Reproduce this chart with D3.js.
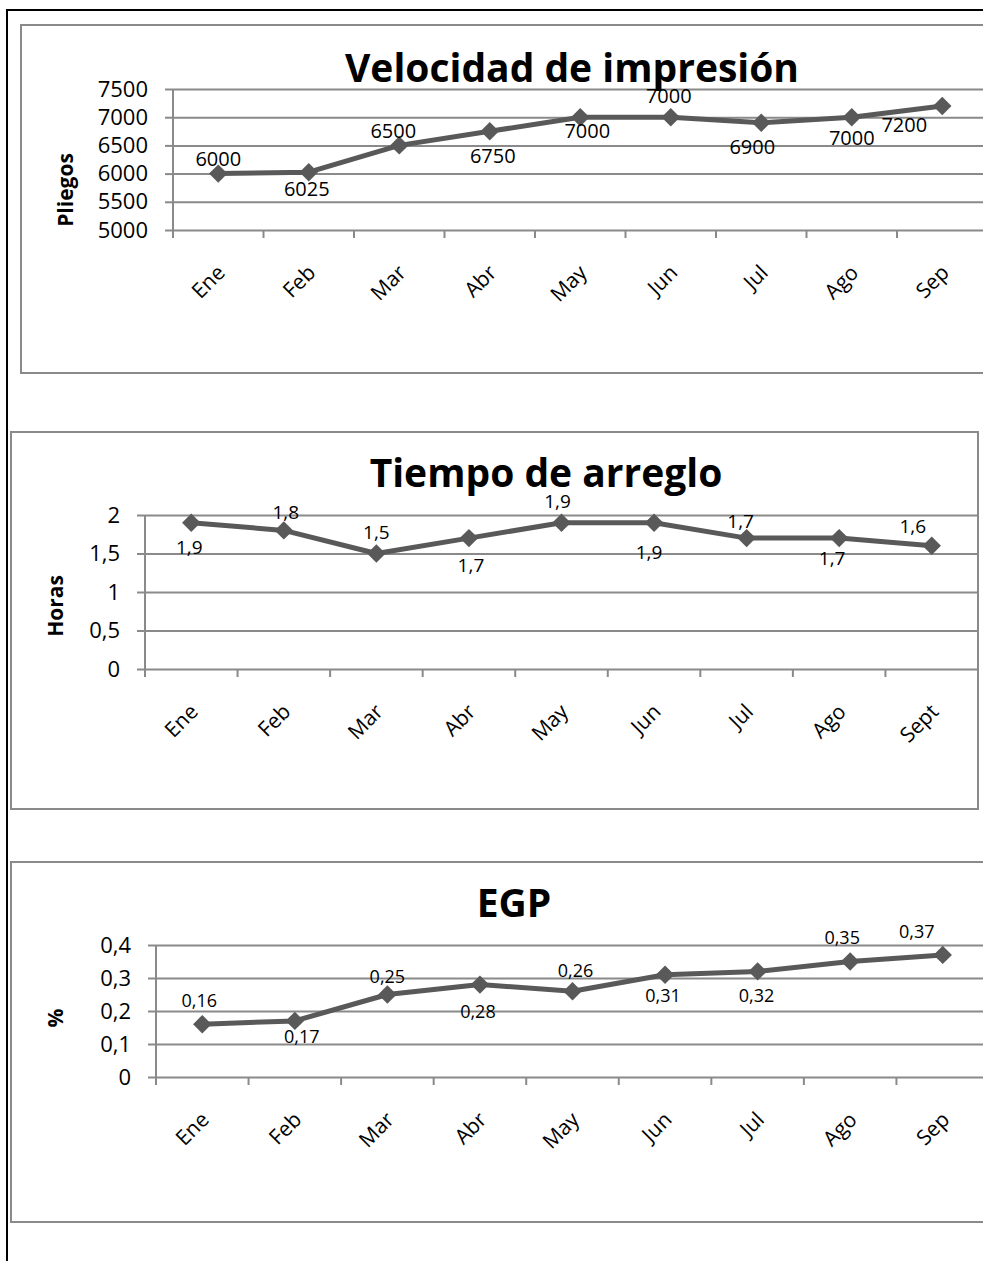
<!DOCTYPE html>
<html>
<head>
<meta charset="utf-8">
<script src="https://cdn.jsdelivr.net/npm/d3@7"></script>
<style>
  body { margin: 0; background: #fff; }
  text { font-family: "Open Sans", sans-serif; fill: #000; }
</style>
</head>
<body>
<div class="chart"></div>
<script>
// data
const months = ["Ene", "Feb", "Mar", "Abr", "May", "Jun", "Jul", "Ago", "Sep"];
const monthsArreglo = ["Ene", "Feb", "Mar", "Abr", "May", "Jun", "Jul", "Ago", "Sept"];

const pliegos = [6000, 6025, 6500, 6750, 7000, 7000, 6900, 7000, 7200];
const horas = [1.9, 1.8, 1.5, 1.7, 1.9, 1.9, 1.7, 1.7, 1.6];
const egp = [0.16, 0.17, 0.25, 0.28, 0.26, 0.31, 0.32, 0.35, 0.37];

const pliegosTicks = [5000, 5500, 6000, 6500, 7000, 7500];
const horasTicks = [0, 0.5, 1, 1.5, 2];
const egpTicks = [0, 0.1, 0.2, 0.3, 0.4];

// where each data label sits relative to its point (px), as left in the original
const pliegosLabelPos = [[0, -8], [-2, 24], [-6, -7], [3, 32], [7, 21], [-2, -14], [-9, 31], [0, 28], [-38, 26]];
const horasLabelPos = [[-2, 31], [2, -11], [0, -15], [2, 34], [-4, -15], [-5, 36], [-6, -10], [-7, 27], [-19, -13]];
const egpLabelPos = [[-3, -17], [7, 22], [0, -12], [-2, 33], [3, -14], [-2, 27], [-1, 31], [-8, -18], [-26, -17]];

const svgWidth = 983;
const svgHeight = 1261;

const locale = d3.formatLocale({ decimal: ",", thousands: "", grouping: [3], currency: ["", ""] });
const fmt = locale.format("~f");

const gridColor = "#8a8a8a";
const lineColor = "#595959";

const svg = d3.select(".chart")
  .append("svg")
  .attr("width", svgWidth)
  .attr("height", svgHeight);

svg.append("rect").attr("width", svgWidth).attr("height", svgHeight).attr("fill", "#fff");

// outer page frame (only left and top edges show)
svg.append("path")
  .attr("d", `M7,${svgHeight} V10 H${svgWidth}`)
  .attr("fill", "none")
  .attr("stroke", "#000")
  .attr("stroke-width", 2);

function drawChart(c) {
  const g = svg.append("g");

  g.append("rect")
    .attr("x", c.frame[0]).attr("y", c.frame[1])
    .attr("width", c.frame[2]).attr("height", c.frame[3])
    .attr("fill", "#fff")
    .attr("stroke", gridColor)
    .attr("stroke-width", 2);

  const plot = g.append("g").attr("transform", `translate(${c.left}, ${c.top})`);

  const xScale = d3.scaleBand()
    .domain(c.categories)
    .range([0, c.width]);

  const yScale = d3.scaleLinear()
    .domain(d3.extent(c.ticks))
    .range([c.height, 0]);

  // gridlines
  plot.append("g")
    .call(d3.axisLeft(yScale).tickValues(c.ticks).tickSize(-c.width).tickFormat(""))
    .call(a => a.select(".domain").remove())
    .call(a => a.selectAll("line").attr("stroke", gridColor).attr("stroke-width", 2));

  // y axis with labels
  plot.append("g")
    .call(d3.axisLeft(yScale).tickValues(c.ticks).tickSize(8).tickPadding(17).tickFormat(fmt))
    .call(a => a.select(".domain").remove())
    .call(a => a.selectAll("line").attr("stroke", gridColor).attr("stroke-width", 2))
    .call(a => a.selectAll("text").attr("font-size", 22).attr("font-family", "Open Sans").attr("fill", "#000"));

  plot.append("line")
    .attr("x1", 0).attr("x2", 0)
    .attr("y1", 0).attr("y2", c.height + 8)
    .attr("stroke", gridColor).attr("stroke-width", 2);

  // category ticks at band edges
  const edges = d3.range(c.categories.length + 1).map(i => i * xScale.step());
  plot.selectAll(".ctick")
    .data(edges)
    .enter()
    .append("line")
    .attr("x1", d => d).attr("x2", d => d)
    .attr("y1", c.height).attr("y2", c.height + 8)
    .attr("stroke", gridColor).attr("stroke-width", 2);

  // rotated category labels
  plot.selectAll(".clabel")
    .data(c.categories)
    .enter()
    .append("text")
    .attr("text-anchor", "end")
    .attr("font-size", 21)
    .attr("transform", d => `translate(${xScale(d) + xScale.bandwidth() / 2 + 8}, ${c.height + 44}) rotate(-45)`)
    .text(d => d);

  const cx = (d, i) => xScale(c.categories[i]) + xScale.bandwidth() / 2;

  const line = d3.line()
    .x(cx)
    .y(d => yScale(d));

  plot.append("path")
    .attr("d", line(c.values))
    .attr("fill", "none")
    .attr("stroke", lineColor)
    .attr("stroke-width", 5)
    .attr("stroke-linejoin", "round");

  const diamond = d3.symbol().type(d3.symbolSquare).size(170);
  plot.selectAll(".marker")
    .data(c.values)
    .enter()
    .append("path")
    .attr("d", diamond)
    .attr("fill", lineColor)
    .attr("transform", (d, i) => `translate(${cx(d, i)}, ${yScale(d)}) rotate(45)`);

  plot.selectAll(".dlabel")
    .data(c.values)
    .enter()
    .append("text")
    .attr("text-anchor", "middle")
    .attr("font-size", c.labelSize)
    .attr("x", (d, i) => cx(d, i) + c.labelPos[i][0])
    .attr("y", (d, i) => yScale(d) + c.labelPos[i][1])
    .text(d => fmt(d));

  // title
  g.append("text")
    .attr("x", c.titleX).attr("y", c.titleY)
    .attr("text-anchor", "middle")
    .attr("font-size", c.titleSize)
    .attr("font-weight", "bold")
    .text(c.title);

  // axis title
  g.append("text")
    .attr("transform", `translate(${c.axisTitleX}, ${c.axisTitleY}) rotate(-90)`)
    .attr("text-anchor", "middle")
    .attr("font-size", 21)
    .attr("font-weight", "bold")
    .text(c.axisTitle);
}

drawChart({
  frame: [21, 25, 990, 348],
  left: 173, top: 89, width: 814.5, height: 141,
  categories: months, values: pliegos, ticks: pliegosTicks,
  labelPos: pliegosLabelPos, labelSize: 20,
  title: "Velocidad de impresión", titleX: 572, titleY: 82, titleSize: 39,
  axisTitle: "Pliegos", axisTitleX: 73, axisTitleY: 190
});

drawChart({
  frame: [11, 432, 967, 377],
  left: 145, top: 515, width: 833, height: 154,
  categories: monthsArreglo, values: horas, ticks: horasTicks,
  labelPos: horasLabelPos, labelSize: 19,
  title: "Tiempo de arreglo", titleX: 546, titleY: 487, titleSize: 39,
  axisTitle: "Horas", axisTitleX: 63, axisTitleY: 606
});

drawChart({
  frame: [11, 862, 990, 360],
  left: 156, top: 945, width: 833, height: 132,
  categories: months, values: egp, ticks: egpTicks,
  labelPos: egpLabelPos, labelSize: 18,
  title: "EGP", titleX: 514, titleY: 917, titleSize: 39,
  axisTitle: "%", axisTitleX: 63, axisTitleY: 1018
});
</script>
</body>
</html>
